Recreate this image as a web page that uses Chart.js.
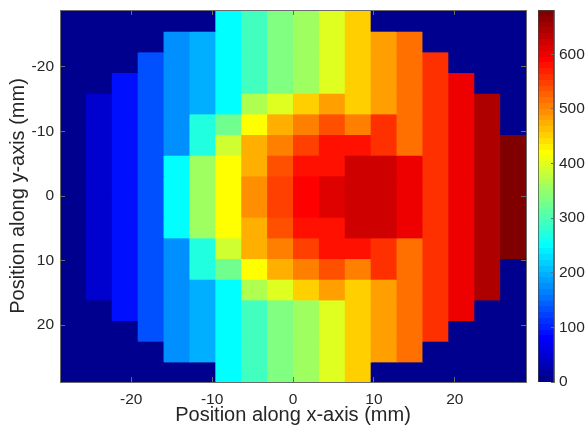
<!DOCTYPE html>
<html>
<head>
<meta charset="utf-8">
<style>
  html, body { margin: 0; padding: 0; background: #fff; }
  #wrap { position: relative; width: 585px; height: 427px; overflow: hidden; }
  #map { position: absolute; left: 0; top: 0; }
  #bar { position: absolute; left: 530px; top: 0; }
</style>
<script src="https://cdn.jsdelivr.net/npm/chart.js@4/dist/chart.umd.min.js"></script>
</head>
<body>
<div id="wrap">
  <canvas id="map" width="585" height="427"></canvas>
  <canvas id="bar" width="55" height="427"></canvas>
</div>
<script>
// the middle edge is a hair off 0, the bar controller trims bars that start exactly on 0
const cellEdges = [-28.8, -25.6, -22.4, -19.2, -16, -12.8, -9.6, -6.4, -3.2, 0.001,
  3.2, 6.4, 9.6, 12.8, 16, 19.2, 22.4, 25.6, 28.8];
const axisMin = -28.8;
const axisMax = 28.8;
const xTicks = [-20, -10, 0, 10, 20];
const yTicks = [-20, -10, 0, 10, 20];
const barTicks = [0, 100, 200, 300, 400, 500, 600];
const colorMax = 681;

// one list per row, top of the plot first
const row0 = [0, 0, 0, 0, 0, 0, 245, 289, 335, 362, 402, 452, 0, 0, 0, 0, 0, 0];
const row1 = [0, 0, 0, 0, 172, 199, 245, 289, 335, 362, 402, 452, 489, 522, 0, 0, 0, 0];
const row2 = [0, 0, 0, 125, 172, 199, 245, 289, 335, 362, 402, 452, 489, 522, 562, 0, 0, 0];
const row3 = [0, 0, 90, 125, 172, 199, 245, 289, 335, 362, 402, 452, 489, 522, 562, 606, 0, 0];
const row4 = [0, 48, 90, 125, 172, 199, 245, 369, 405, 452, 482, 452, 489, 522, 562, 606, 649, 0];
const row5 = [0, 48, 90, 125, 172, 275, 322, 426, 472, 512, 539, 512, 562, 522, 562, 606, 649, 0];
const row6 = [0, 48, 90, 125, 172, 275, 386, 472, 512, 546, 582, 582, 562, 522, 562, 606, 649, 678];
const row7 = [0, 48, 90, 125, 245, 356, 426, 472, 542, 579, 582, 629, 629, 609, 562, 606, 649, 678];
const row8 = [0, 48, 90, 125, 245, 356, 426, 502, 552, 596, 616, 629, 629, 609, 562, 606, 649, 678];
const row9 = [0, 48, 90, 125, 245, 356, 426, 502, 552, 596, 616, 629, 629, 609, 562, 606, 649, 678];
const row10 = [0, 48, 90, 125, 245, 356, 426, 472, 542, 579, 582, 629, 629, 609, 562, 606, 649, 678];
const row11 = [0, 48, 90, 125, 172, 275, 386, 472, 512, 546, 582, 582, 562, 522, 562, 606, 649, 678];
const row12 = [0, 48, 90, 125, 172, 275, 322, 426, 472, 512, 539, 512, 562, 522, 562, 606, 649, 0];
const row13 = [0, 48, 90, 125, 172, 199, 245, 369, 405, 452, 482, 452, 489, 522, 562, 606, 649, 0];
const row14 = [0, 0, 90, 125, 172, 199, 245, 289, 335, 362, 402, 452, 489, 522, 562, 606, 0, 0];
const row15 = [0, 0, 0, 125, 172, 199, 245, 289, 335, 362, 402, 452, 489, 522, 562, 0, 0, 0];
const row16 = [0, 0, 0, 0, 172, 199, 245, 289, 335, 362, 402, 452, 489, 522, 0, 0, 0, 0];
const row17 = [0, 0, 0, 0, 0, 0, 245, 289, 335, 362, 402, 452, 0, 0, 0, 0, 0, 0];
const rows = [row0, row1, row2, row3, row4, row5, row6, row7, row8, row9, row10, row11, row12, row13, row14, row15, row16, row17];

const FONT = "'Liberation Sans', Arial, sans-serif";
const TEXT = "#262626";
const FRAME = "#6b6b6b";
// cells run about 1px under their neighbour so no white shows through the antialiased edges
const SEAM_Y = 0.16;
const SEAM_X = 0.065;

// 64 level jet, same as the matlab colormap
function jetLevel(k) {
  const t = (k + 1) / 64;
  const c = (v) => Math.round(255 * Math.max(0, Math.min(1, v)));
  const r = c(Math.min(4 * t - 1.5, -4 * t + 4.5));
  const g = c(Math.min(4 * t - 0.5, -4 * t + 3.5));
  const b = c(Math.min(4 * t + 0.5, -4 * t + 2.5));
  return `rgb(${r},${g},${b})`;
}

function colorOf(value) {
  return jetLevel(Math.round((value / colorMax) * 63));
}

function barGradient(context) {
  const area = context.chart.chartArea;
  if (!area) return "#000";
  const grad = context.chart.ctx.createLinearGradient(0, area.bottom, 0, area.top);
  for (let k = 0; k < 64; k++) {
    grad.addColorStop(k / 64, jetLevel(k));
    grad.addColorStop((k + 1) / 64, jetLevel(k));
  }
  return grad;
}

function frameAxis(position, size, tickValues, extra) {
  return Object.assign({
    type: "linear",
    position,
    offset: false,
    afterFit: (scale) => {
      if (position === "left" || position === "right") scale.width = size;
      else scale.height = size;
      // no room for labels hanging over the ends, the layout is fixed
      scale.paddingTop = 0;
      scale.paddingBottom = 0;
      scale.paddingLeft = 0;
      scale.paddingRight = 0;
    },
    afterBuildTicks: (scale) => {
      scale.ticks = tickValues.map((value) => ({ value }));
    },
    grid: { offset: false, drawOnChartArea: false, drawTicks: true, tickLength: -5, tickColor: FRAME, lineWidth: 1, z: 1 },
    border: { display: true, color: FRAME, width: 1, z: 1 },
    ticks: { display: false },
  }, extra);
}

const axisLabels = {
  color: TEXT,
  font: { family: FONT, size: 15.5 },
  maxRotation: 0,
  autoSkip: false,
  callback: (value) => String(value),
};

const datasets = rows.map((row, r) => ({
  data: row.map((_, c) => ({
    x: (cellEdges[c] + cellEdges[c + 1]) / 2 + SEAM_X,
    y: [cellEdges[r], cellEdges[r + 1] + SEAM_Y],
  })),
  backgroundColor: row.map(colorOf),
  borderWidth: 0,
  grouped: false,
  barPercentage: 1.04,
  categoryPercentage: 1,
  xAxisID: "x",
  yAxisID: "y",
}));

new Chart(document.getElementById("map"), {
  type: "bar",
  data: { datasets },
  options: {
    responsive: false,
    animation: false,
    layout: { padding: { left: 0, right: 59, top: 10, bottom: 0 } },
    plugins: { legend: { display: false }, tooltip: { enabled: false } },
    scales: {
      x: frameAxis("bottom", 45, xTicks, {
        min: axisMin,
        max: axisMax,
        ticks: Object.assign({ padding: 13 }, axisLabels),
        title: {
          display: true,
          text: "Position along x-axis (mm)",
          color: TEXT,
          font: { family: FONT, size: 20 },
          padding: { top: 0, bottom: 0 },
        },
      }),
      xTop: frameAxis("top", 0, xTicks, { min: axisMin, max: axisMax }),
      y: frameAxis("left", 60, yTicks, {
        min: axisMin,
        max: axisMax,
        reverse: true,
        ticks: Object.assign({ padding: 11 }, axisLabels),
        title: {
          display: true,
          text: "Position along y-axis (mm)",
          color: TEXT,
          font: { family: FONT, size: 20 },
          padding: { top: 6, bottom: 0 },
        },
      }),
      yRight: frameAxis("right", 0, yTicks, { min: axisMin, max: axisMax, reverse: true }),
    },
  },
});

new Chart(document.getElementById("bar"), {
  type: "bar",
  data: {
    labels: ["level"],
    datasets: [{
      data: [[0.001, colorMax]],
      backgroundColor: barGradient,
      borderColor: "#444",
      borderWidth: 1,
      barPercentage: 1,
      categoryPercentage: 1,
    }],
  },
  options: {
    responsive: false,
    animation: false,
    layout: { padding: { left: 8, right: 0, top: 10, bottom: 45 } },
    plugins: { legend: { display: false }, tooltip: { enabled: false } },
    scales: {
      x: { display: false },
      y: frameAxis("right", 31, barTicks, {
        min: 0,
        max: colorMax,
        grid: { offset: false, drawOnChartArea: false, drawTicks: true, tickLength: -3, tickColor: FRAME, lineWidth: 1, z: 1 },
        ticks: Object.assign({ padding: 8 }, axisLabels),
      }),
    },
  },
});
</script>
</body>
</html>
